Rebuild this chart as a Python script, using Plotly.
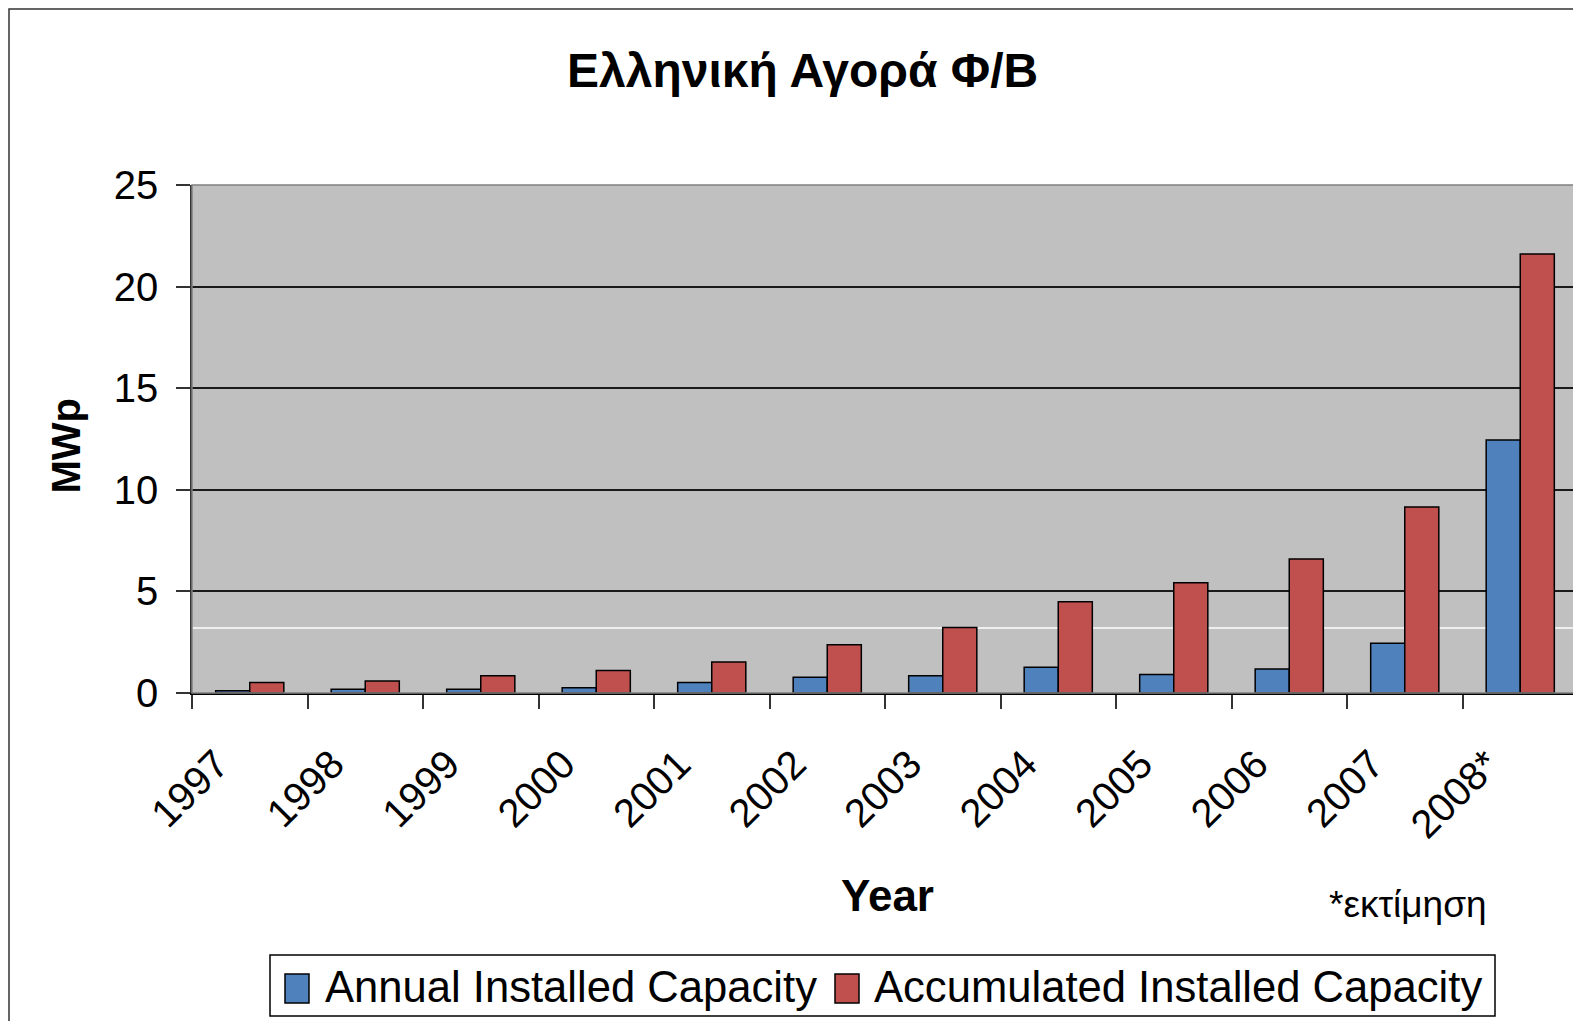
import plotly.graph_objects as go

# ---- data ----
years = ["1997", "1998", "1999", "2000", "2001", "2002",
         "2003", "2004", "2005", "2006", "2007", "2008*"]
annual = [0.11, 0.18, 0.18, 0.26, 0.52, 0.78, 0.85, 1.27, 0.91, 1.18, 2.45, 12.45]
accumulated = [0.52, 0.59, 0.85, 1.11, 1.52, 2.37, 3.22, 4.49, 5.42, 6.60, 9.15, 21.6]
y_ticks = [0, 5, 10, 15, 20, 25]
series_names = ["Annual Installed Capacity", "Accumulated Installed Capacity"]
series_colors = ["#4F81BD", "#C0504D"]
white_rule = 3.2

# ---- geometry (page pixels; the html body adds an 8px margin) ----
OFF = 8
W, H = 1581 - OFF, 1021 - OFF
L, R, T, B = 192 - OFF, 1578 - OFF, 185 - OFF, 693 - OFF


def px(x):
    return (x - OFF - L) / (R - L)


def py(y):
    return (B - (y - OFF)) / (B - T)


FONT = "Liberation Sans, Arial, sans-serif"

fig = go.Figure()
for name, vals, col in zip(series_names, [annual, accumulated], series_colors):
    fig.add_trace(go.Bar(
        x=years, y=vals, name=name, showlegend=False,
        marker=dict(color=col, line=dict(color="black", width=1.5)),
    ))

shapes = [
    dict(type="line", xref="paper", yref="y", x0=0, x1=1,
         y0=white_rule, y1=white_rule, line=dict(color="white", width=1.5),
         layer="below"),
    dict(type="rect", xref="paper", yref="paper", x0=0, x1=1, y0=0, y1=1,
         line=dict(color="#808080", width=1.5), layer="above"),
    # outer chart border
    dict(type="rect", xref="paper", yref="paper",
         x0=px(OFF + 1), x1=px(1640), y0=py(1080), y1=py(OFF + 1),
         line=dict(color="#333", width=1.5), layer="above"),
    # legend box
    dict(type="rect", xref="paper", yref="paper",
         x0=px(270), x1=px(1495), y0=py(1016), y1=py(955),
         line=dict(color="black", width=1.5), fillcolor="white", layer="above"),
]
annotations = [
    dict(text="<b>Ελληνική Αγορά Φ/Β</b>", xref="paper", yref="paper",
         x=px(802), y=py(71), xanchor="center", yanchor="middle",
         showarrow=False, font=dict(size=48)),
    dict(text="<b>MWp</b>", xref="paper", yref="paper",
         x=px(65.5), y=py(446), xanchor="center", yanchor="middle",
         textangle=-90, showarrow=False, font=dict(size=40)),
    dict(text="<b>Year</b>", xref="paper", yref="paper",
         x=px(887), y=py(895), xanchor="center", yanchor="middle",
         showarrow=False, font=dict(size=44)),
    dict(text="*εκτίμηση", xref="paper", yref="paper",
         x=px(1408), y=py(904), xanchor="center", yanchor="middle",
         showarrow=False, font=dict(size=37)),
]

# legend entries (square swatch + label)
legend_items = [(285, 323), (835, 872)]
for (sx, tx), name, col in zip(legend_items, series_names, series_colors):
    shapes.append(dict(type="rect", xref="paper", yref="paper",
                       x0=px(sx), x1=px(sx + 24), y0=py(1003), y1=py(974),
                       line=dict(color="black", width=1.5), fillcolor=col,
                       layer="above"))
    annotations.append(dict(text=name, xref="paper", yref="paper",
                            x=px(tx), y=py(987), xanchor="left", yanchor="middle",
                            showarrow=False, font=dict(size=43.6)))

fig.update_layout(
    width=W, height=H, autosize=False,
    margin=dict(l=L, r=W - R, t=T, b=H - B, pad=0),
    paper_bgcolor="white", plot_bgcolor="#C0C0C0",
    barmode="group", bargap=0.41, bargroupgap=0,
    font=dict(family=FONT, color="black", size=40),
    showlegend=False,
    xaxis=dict(
        type="category", tickson="boundaries", ticks="outside", ticklen=14,
        tickcolor="#333", tickwidth=1.5, tickangle=-45,
        tickfont=dict(size=40), ticklabelshift=-33, ticklabelstandoff=30,
        showline=True, linecolor="black", linewidth=1.5,
        showgrid=False, zeroline=False,
    ),
    yaxis=dict(
        range=[0, 25], tickvals=y_ticks, ticks="outside", ticklen=14,
        tickcolor="#333", tickwidth=1.5, tickfont=dict(size=40),
        ticklabelstandoff=10,
        showline=True, linecolor="#333", linewidth=1.5,
        showgrid=True, gridcolor="#1a1a1a", gridwidth=1.5, zeroline=False,
    ),
    shapes=shapes,
    annotations=annotations,
)

fig.write_html("out.html")
